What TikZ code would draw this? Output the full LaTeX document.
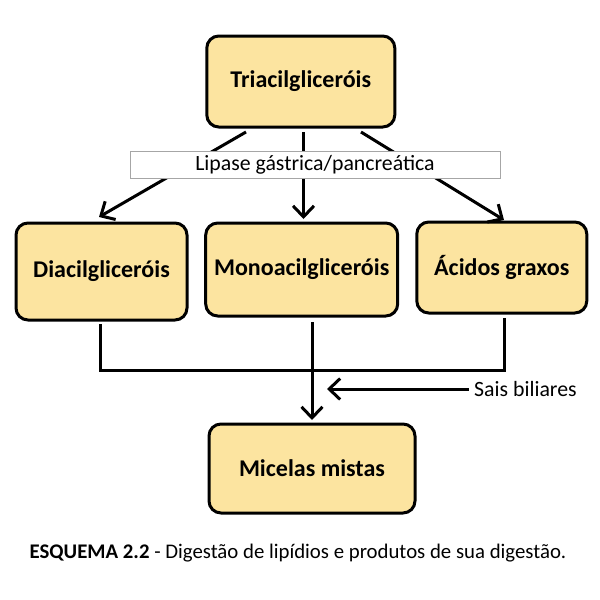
\documentclass[tikz,border=0pt]{standalone}
\usepackage{fontspec}
\setmainfont{Carlito}
\usetikzlibrary{arrows.meta}
\definecolor{boxfill}{HTML}{FCE4A0}
\begin{document}
\begin{tikzpicture}[x=1pt,y=-1pt,
  box/.style={draw=black,line width=3pt,fill=boxfill,rounded corners=12pt,font=\bfseries\fontsize{24}{28}\selectfont,inner sep=0pt},
  conn/.style={line width=3pt,black},
  arr/.style={conn,-{Straight Barb[length=11pt,width=21pt,line width=3pt]}},
  lbl/.style={draw=gray!70,line width=0.8pt,fill=white,font=\fontsize{21.8}{25}\selectfont,inner sep=0pt},
  plain/.style={font=\fontsize{21.8}{25}\selectfont,inner sep=0pt}]
\useasboundingbox (0,0) rectangle (600,600);
\fill[white] (0,0) rectangle (600,600);
% boxes
\node[box,minimum width=188pt,minimum height=91pt] (tri) at (300.8,81.5) {Triacilgliceróis};
\node[box,minimum width=171pt,minimum height=97pt] (di) at (101.5,271.5) {Diacilgliceróis};
\node[box,minimum width=192pt,minimum height=93pt] (mono) at (301.7,269.5) {Monoacilgliceróis};
\node[box,minimum width=170pt,minimum height=91pt] (acid) at (501.8,267.5) {Ácidos graxos};
\node[box,minimum width=206pt,minimum height=89pt] (mic) at (312,468.5) {Micelas mistas};
% coordinates
\coordinate (t1) at (246,132);
\coordinate (t2) at (303.5,132);
\coordinate (t3) at (361,132);
\coordinate (d1) at (99,217);
\coordinate (m1) at (303.5,219);
\coordinate (a1) at (504,220);
\coordinate (dl) at (100.5,324);
\coordinate (al) at (504,318);
\coordinate (ml) at (312,322);
\coordinate (me) at (312,420);
\coordinate (ss) at (468.5,389);
\coordinate (se) at (327,389);
% arrows from top
\draw[arr] (t1) -- (d1);
\draw[arr] (t2) -- (m1);
\draw[arr] (t3) -- (a1);
\node[lbl,minimum width=370pt,minimum height=27pt] (lip) at (315,164.5) {Lipase gástrica/pancreática};
% bottom connectors
\draw[conn] (dl) |- (504,370) -- (al);
\draw[arr] (ml) -- (me);
\draw[arr] (ss) -- (se);
\node[plain,anchor=west] (sais) at (474,389) {Sais biliares};
% caption
\node[font=\fontsize{20.8}{24}\selectfont,inner sep=0pt] (cap) at (298,553) {\textbf{ESQUEMA 2.2} - Digestão de lipídios e produtos de sua digestão.};
\end{tikzpicture}
\end{document}
